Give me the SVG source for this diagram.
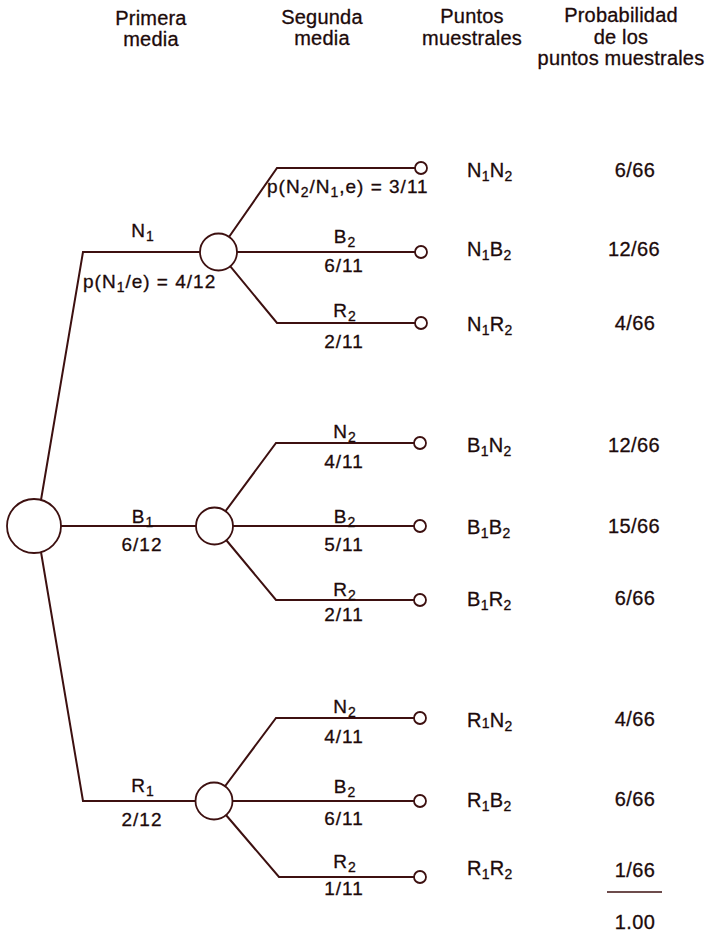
<svg xmlns="http://www.w3.org/2000/svg" width="715" height="933" viewBox="0 0 715 933">
  <style>
    text { font-family: "Liberation Sans", Arial, sans-serif; fill: #1c0a0a; stroke: #1c0a0a; stroke-width: 0.3px; }
    .head { font-size: 20px; letter-spacing: 0.2px; text-anchor: middle; }
    .lbl { font-size: 19px; letter-spacing: 1px; }
    .mid { text-anchor: middle; }
    .pt { font-size: 20px; letter-spacing: 0.3px; }
    .pr { font-size: 20px; letter-spacing: 0.4px; text-anchor: middle; }
    .sub { font-size: 14px; }
    .edge { fill: none; stroke: #3d1010; stroke-width: 2; }
    .node { fill: #ffffff; stroke: #3d1010; stroke-width: 1.8; }
  </style>

  <!-- column headings -->
  <g id="headings">
    <text class="head" x="151" y="25">Primera</text>
    <text class="head" x="151" y="46">media</text>
    <text class="head" x="322" y="24">Segunda</text>
    <text class="head" x="322" y="45">media</text>
    <text class="head" x="472" y="23">Puntos</text>
    <text class="head" x="472" y="45">muestrales</text>
    <text class="head" x="621" y="22">Probabilidad</text>
    <text class="head" x="621" y="44">de los</text>
    <text class="head" x="621" y="65">puntos muestrales</text>
  </g>

  <!-- branches -->
  <g id="connectors" class="edge">
    <!-- first draw -->
    <polyline points="34,526 41,500 83,252 218.5,252"/>
    <polyline points="34,526 214.5,526"/>
    <polyline points="34,526 41,552 83,801 214,801"/>
    <!-- second draw after N1 -->
    <polyline points="218.5,252 277,168 415,168"/>
    <polyline points="218.5,252 415,252"/>
    <polyline points="218.5,252 277,323 415,323"/>
    <!-- second draw after B1 -->
    <polyline points="214.5,526 276,443 414,443"/>
    <polyline points="214.5,526 414,526"/>
    <polyline points="214.5,526 276,600 414,600"/>
    <!-- second draw after R1 -->
    <polyline points="214,801 276,718 414,718"/>
    <polyline points="214,801 414,801"/>
    <polyline points="214,801 279,877 414,877"/>
    <!-- total rule -->
    <line x1="607" y1="892" x2="662" y2="892" stroke-width="1.6"/>
  </g>

  <!-- chance nodes -->
  <g id="root"><circle class="node" cx="34" cy="526" r="27"/></g>
  <g id="node-N1"><circle class="node" cx="218.5" cy="252" r="18.5"/></g>
  <g id="node-B1"><circle class="node" cx="214.5" cy="526" r="18.5"/></g>
  <g id="node-R1"><circle class="node" cx="214" cy="801" r="18.5"/></g>

  <!-- sample points -->
  <g id="leaf-N1N2"><circle class="node" cx="421" cy="168" r="6"/></g>
  <g id="leaf-N1B2"><circle class="node" cx="421" cy="252" r="6"/></g>
  <g id="leaf-N1R2"><circle class="node" cx="421" cy="323" r="6"/></g>
  <g id="leaf-B1N2"><circle class="node" cx="420" cy="443" r="6"/></g>
  <g id="leaf-B1B2"><circle class="node" cx="420" cy="526" r="6"/></g>
  <g id="leaf-B1R2"><circle class="node" cx="420" cy="600" r="6"/></g>
  <g id="leaf-R1N2"><circle class="node" cx="420" cy="718" r="6"/></g>
  <g id="leaf-R1B2"><circle class="node" cx="420" cy="801" r="6"/></g>
  <g id="leaf-R1R2"><circle class="node" cx="420" cy="877" r="6"/></g>

  <!-- first-draw labels -->
  <g id="labels-first" class="lbl">
    <text class="mid" x="143" y="237">N<tspan class="sub" dy="4">1</tspan></text>
    <text x="83" y="288">p(N<tspan class="sub" dy="4">1</tspan><tspan dy="-4">/e) = 4/12</tspan></text>
    <text class="mid" x="143" y="523">B<tspan class="sub" dy="4">1</tspan></text>
    <text class="mid" x="142" y="551">6/12</text>
    <text class="mid" x="143" y="792">R<tspan class="sub" dy="4">1</tspan></text>
    <text class="mid" x="142" y="826">2/12</text>
  </g>

  <!-- second-draw labels -->
  <g id="labels-second" class="lbl">
    <text x="267" y="193">p(N<tspan class="sub" dy="4">2</tspan><tspan dy="-4">/N</tspan><tspan class="sub" dy="4">1</tspan><tspan dy="-4">,e) = 3/11</tspan></text>
    <text class="mid" x="345" y="243">B<tspan class="sub" dy="4">2</tspan></text>
    <text class="mid" x="344" y="272">6/11</text>
    <text class="mid" x="345" y="317">R<tspan class="sub" dy="4">2</tspan></text>
    <text class="mid" x="344" y="348">2/11</text>

    <text class="mid" x="345" y="438">N<tspan class="sub" dy="4">2</tspan></text>
    <text class="mid" x="344" y="468">4/11</text>
    <text class="mid" x="345" y="523">B<tspan class="sub" dy="4">2</tspan></text>
    <text class="mid" x="344" y="551">5/11</text>
    <text class="mid" x="345" y="596">R<tspan class="sub" dy="4">2</tspan></text>
    <text class="mid" x="344" y="621">2/11</text>

    <text class="mid" x="345" y="713">N<tspan class="sub" dy="4">2</tspan></text>
    <text class="mid" x="344" y="743">4/11</text>
    <text class="mid" x="345" y="793">B<tspan class="sub" dy="4">2</tspan></text>
    <text class="mid" x="344" y="825">6/11</text>
    <text class="mid" x="345" y="868">R<tspan class="sub" dy="4">2</tspan></text>
    <text class="mid" x="344" y="895">1/11</text>
  </g>

  <!-- sample point names -->
  <g id="points" class="pt">
    <text x="467" y="177">N<tspan class="sub" dy="4">1</tspan><tspan dy="-4">N</tspan><tspan class="sub" dy="4">2</tspan></text>
    <text x="467" y="256">N<tspan class="sub" dy="4">1</tspan><tspan dy="-4">B</tspan><tspan class="sub" dy="4">2</tspan></text>
    <text x="467" y="331">N<tspan class="sub" dy="4">1</tspan><tspan dy="-4">R</tspan><tspan class="sub" dy="4">2</tspan></text>
    <text x="467" y="452">B<tspan class="sub" dy="4">1</tspan><tspan dy="-4">N</tspan><tspan class="sub" dy="4">2</tspan></text>
    <text x="467" y="534">B<tspan class="sub" dy="4">1</tspan><tspan dy="-4">B</tspan><tspan class="sub" dy="4">2</tspan></text>
    <text x="467" y="606">B<tspan class="sub" dy="4">1</tspan><tspan dy="-4">R</tspan><tspan class="sub" dy="4">2</tspan></text>
    <text x="467" y="727">R<tspan class="sub" dy="1">1</tspan><tspan dy="-1">N</tspan><tspan class="sub" dy="4">2</tspan></text>
    <text x="467" y="807">R<tspan class="sub" dy="4">1</tspan><tspan dy="-4">B</tspan><tspan class="sub" dy="4">2</tspan></text>
    <text x="467" y="875">R<tspan class="sub" dy="4">1</tspan><tspan dy="-4">R</tspan><tspan class="sub" dy="4">2</tspan></text>
  </g>

  <!-- probabilities -->
  <g id="probabilities" class="pr">
    <text x="635" y="177">6/66</text>
    <text x="634" y="256">12/66</text>
    <text x="635" y="330">4/66</text>
    <text x="634" y="452">12/66</text>
    <text x="634" y="533">15/66</text>
    <text x="635" y="605">6/66</text>
    <text x="635" y="726">4/66</text>
    <text x="635" y="806">6/66</text>
    <text x="635" y="877">1/66</text>
    <text x="635" y="929">1.00</text>
  </g>
</svg>
